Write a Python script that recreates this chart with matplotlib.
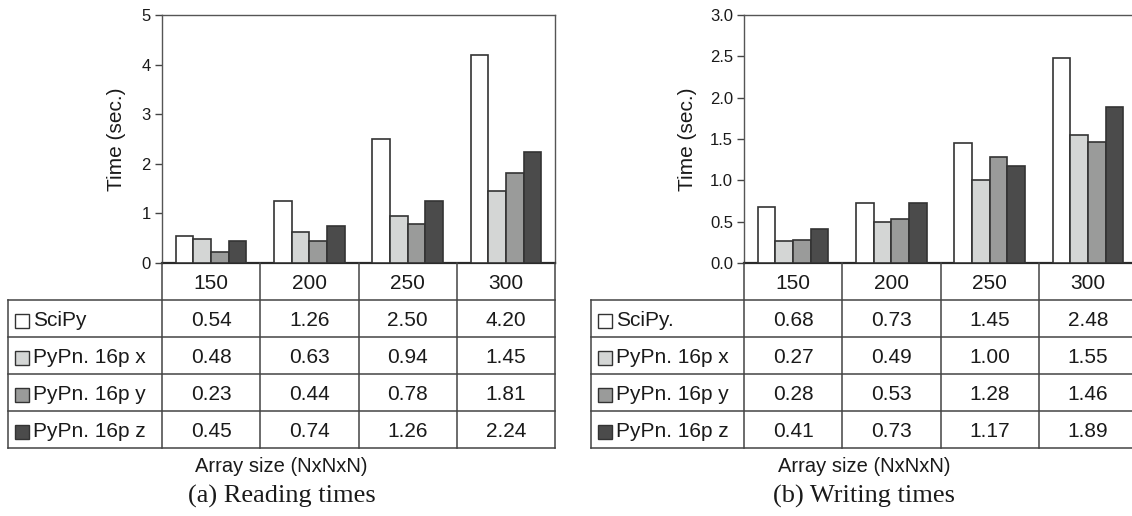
import matplotlib
matplotlib.use("Agg")
import matplotlib.pyplot as plt
from matplotlib.patches import Rectangle

sizes = ["150", "200", "250", "300"]
series_names_read = ["SciPy", "PyPn. 16p x", "PyPn. 16p y", "PyPn. 16p z"]
series_names_write = ["SciPy.", "PyPn. 16p x", "PyPn. 16p y", "PyPn. 16p z"]

read_scipy = [0.54, 1.26, 2.50, 4.20]
read_x = [0.48, 0.63, 0.94, 1.45]
read_y = [0.23, 0.44, 0.78, 1.81]
read_z = [0.45, 0.74, 1.26, 2.24]

write_scipy = [0.68, 0.73, 1.45, 2.48]
write_x = [0.27, 0.49, 1.00, 1.55]
write_y = [0.28, 0.53, 1.28, 1.46]
write_z = [0.41, 0.73, 1.17, 1.89]

read_ticks = [0, 1, 2, 3, 4, 5]
write_ticks = [0.0, 0.5, 1.0, 1.5, 2.0, 2.5, 3.0]

colors = ["#ffffff", "#d4d6d5", "#9a9b9a", "#4b4b4b"]
EDGE = "#333333"
LINE = "#444444"
TXT = "#1a1a1a"

W, H = 1132, 516
fig = plt.figure(figsize=(W / 100, H / 100), dpi=100)
plt.rcParams["font.family"] = ["Liberation Sans", "DejaVu Sans"]


def px_axes(x0, y0, x1, y1):
    # pixel box (top-down image coords) -> figure axes
    return fig.add_axes([x0 / W, 1 - y1 / H, (x1 - x0) / W, (y1 - y0) / H])


def panel(ax_left, table_left, series, names, ticks, fmt, ylabel_x, caption):
    col_w = 98.25
    ax_right = ax_left + 4 * col_w
    top, base, tbot = 15, 263, 448

    ax = px_axes(ax_left, top, ax_right, base)
    bw = 0.18
    for i, vals in enumerate(series):
        off = (i - 1.5) * bw
        ax.bar([k + off for k in range(len(sizes))], vals, width=bw,
               color=colors[i], edgecolor=EDGE, linewidth=1.2, zorder=3)
    ax.set_xlim(-0.5, len(sizes) - 0.5)
    ax.set_ylim(ticks[0], ticks[-1])
    ax.set_yticks(ticks)
    ax.set_yticklabels([fmt.format(t) for t in ticks], fontsize=12, color=TXT)
    ax.set_xticks([])
    ax.tick_params(axis="y", direction="out", length=5, width=1, color=LINE, pad=3)
    for s in ["top", "right", "left"]:
        ax.spines[s].set_color("#555555")
        ax.spines[s].set_linewidth(1)
    ax.spines["bottom"].set_color("#2a2a2a")
    ax.spines["bottom"].set_linewidth(1.6)
    ax.set_ylabel("Time (sec.)", fontsize=15, color=TXT)
    # label x is its right edge once rotated; shift so the glyphs centre on ylabel_x
    ax.yaxis.set_label_coords((ylabel_x + 10 - ax_left) / (ax_right - ax_left), 0.5)

    # table under the bars
    lab_w = (ax_left - table_left) / col_w
    tx = px_axes(table_left, base, ax_right, tbot)
    tx.set_xlim(-0.5 - lab_w, len(sizes) - 0.5)
    tx.set_ylim(5, 0)
    tx.axis("off")
    lw = 1.1
    for k in range(len(sizes) + 1):
        tx.plot([k - 0.5, k - 0.5], [0, 5], color=LINE, lw=lw, clip_on=False)
    tx.plot([-0.5 - lab_w] * 2, [1, 5], color=LINE, lw=lw, clip_on=False)
    for r in range(1, 6):
        tx.plot([-0.5 - lab_w, len(sizes) - 0.5], [r, r], color=LINE, lw=lw,
                clip_on=False)
    dy = 0.06
    for k, s in enumerate(sizes):
        tx.text(k, 0.5 + dy, s, ha="center", va="center", fontsize=15, color=TXT)
    for r, vals in enumerate(series):
        for k, v in enumerate(vals):
            tx.text(k, r + 1.5 + dy, f"{v:.2f}", ha="center", va="center",
                    fontsize=15, color=TXT)
        sq = 14 / col_w
        x0 = -0.5 - lab_w + 7 / col_w
        tx.add_patch(Rectangle((x0, r + 1.5 + dy + 0.19), sq, -0.38,
                               facecolor=colors[r], edgecolor=EDGE, linewidth=1,
                               clip_on=False))
        tx.text(x0 + sq + 4 / col_w, r + 1.5 + dy, names[r], ha="left",
                va="center", fontsize=15, color=TXT)

    cx = (table_left + ax_right) / 2
    fig.text(cx / W, 1 - 466 / H, "Array size (NxNxN)", ha="center", va="center",
             fontsize=14.5, color=TXT)
    fig.text(cx / W, 1 - 496 / H, caption, ha="center", va="center",
             fontsize=19, color=TXT, family=["Liberation Serif", "DejaVu Serif"])


panel(162, 8, [read_scipy, read_x, read_y, read_z], series_names_read,
      read_ticks, "{:d}", 116, "(a) Reading times")
panel(744, 591, [write_scipy, write_x, write_y, write_z], series_names_write,
      write_ticks, "{:.1f}", 687, "(b) Writing times")

fig.savefig("out.png", dpi=100)
